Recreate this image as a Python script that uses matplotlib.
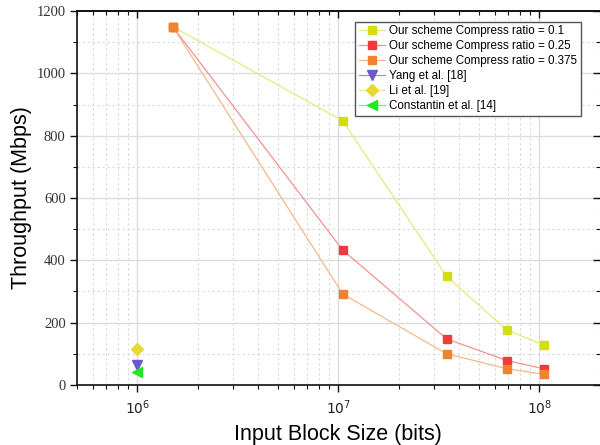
import matplotlib
matplotlib.use("Agg")
import matplotlib.pyplot as plt
from matplotlib.ticker import LogLocator, MultipleLocator, NullFormatter
from matplotlib.lines import Line2D

plt.rcParams['mathtext.fontset'] = 'stix'

# Data
block_sizes = [1.5e6, 1.05e7, 3.45e7, 6.9e7, 1.05e8]
ours_01 = [1150, 848, 349, 176, 128]
ours_025 = [1150, 433, 148, 78, 52]
ours_0375 = [1150, 292, 100, 52, 34]
ref_x = [1e6]
yang = [63]
li = [116]
constantin = [42]

labels = ["Our scheme Compress ratio = 0.1",
          "Our scheme Compress ratio = 0.25",
          "Our scheme Compress ratio = 0.375",
          "Yang et al. [18]",
          "Li et al. [19]",
          "Constantin et al. [14]"]

fig = plt.figure(figsize=(6, 4.45), dpi=100)
ax = fig.add_axes([0.128, 0.135, 0.872, 0.84])

ax.set_xscale('log')
ax.set_xlim(5e5, 2e8)
ax.set_ylim(0, 1200)

def series(y, mc, lc):
    ax.plot(block_sizes, y, color=lc, lw=0.9, zorder=3)
    ax.plot(block_sizes, y, ls='none', marker='s', ms=6, mfc=mc, mec=mc, zorder=4)
    return Line2D([], [], color=lc, lw=0.9, marker='s', ms=6, mfc=mc, mec=mc)

h1 = series(ours_01, '#d4dc12', '#e4ea7a')
h2 = series(ours_025, '#f23a3e', '#f69090')
h3 = series(ours_0375, '#f08230', '#f6b888')
ax.plot(ref_x, yang, ls='none', marker='v', ms=6.5, color='#6a5cc8', zorder=4)
ax.plot(ref_x, li, ls='none', marker='D', ms=6, color='#e8d832', zorder=4)
ax.plot(ref_x, constantin, ls='none', marker='<', ms=6.5, color='#22e622', zorder=4)

h_ref = [Line2D([], [], color='#9a90dc', lw=0.9, marker='v', ms=6.5, mfc='#6a5cc8', mec='#6a5cc8'),
         Line2D([], [], color='#eee690', lw=0.9, marker='D', ms=6, mfc='#e8d832', mec='#e8d832'),
         Line2D([], [], color='#70ee70', lw=0.9, marker='<', ms=6.5, mfc='#22e622', mec='#22e622')]
handles = [h1, h2, h3] + h_ref
leg = ax.legend(handles, labels, loc='upper right', bbox_to_anchor=(0.968, 0.978),
                prop={'family': 'Liberation Sans', 'size': 8.4}, frameon=True, fancybox=False,
                framealpha=1, edgecolor='#555555', handlelength=2.3, handletextpad=0.35,
                labelspacing=0.26, borderpad=0.3, borderaxespad=0.2)
leg.get_frame().set_linewidth(1.0)
leg.set_zorder(10)

# ticks and grid
ax.yaxis.set_major_locator(MultipleLocator(200))
ax.yaxis.set_minor_locator(MultipleLocator(100))
ax.xaxis.set_major_locator(LogLocator(base=10, numticks=10))
ax.xaxis.set_minor_locator(LogLocator(base=10, subs=range(2, 10), numticks=20))
ax.xaxis.set_minor_formatter(NullFormatter())
ax.grid(True, which='major', color='#dddddd', lw=1.0, zorder=0)
ax.grid(True, which='minor', color='#d8d8d8', lw=0.8, ls=(0, (2, 2.5)), zorder=0)
ax.set_axisbelow(True)

ax.tick_params(which='both', direction='out', top=False, right=False, color='#111111')
ax.tick_params(which='major', length=5, width=1.0)
ax.tick_params(which='minor', length=3, width=0.8)
ax.tick_params(axis='x', labelsize=10, pad=5, labelcolor='#222222')
ax.tick_params(axis='y', labelsize=10.5, labelfontfamily='Liberation Serif', pad=3,
               labelcolor='#333333')

# top & right inward ticks
top = ax.secondary_xaxis('top')
top.set_zorder(6)
top.xaxis.set_major_locator(LogLocator(base=10, numticks=10))
top.xaxis.set_minor_locator(LogLocator(base=10, subs=range(2, 10), numticks=20))
top.tick_params(which='both', direction='in', labeltop=False, color='#111111')
top.tick_params(which='major', length=5, width=1.0)
top.tick_params(which='minor', length=3, width=0.8)
top.spines['top'].set_linewidth(1.2)
top.spines['top'].set_color('#111111')
right = ax.secondary_yaxis('right')
right.set_zorder(6)
right.yaxis.set_major_locator(MultipleLocator(200))
right.yaxis.set_minor_locator(MultipleLocator(100))
right.tick_params(which='both', direction='in', labelright=False, color='#111111')
right.tick_params(which='major', length=5, width=1.0)
right.tick_params(which='minor', length=3, width=0.8)
right.spines['right'].set_visible(False)

for s in ax.spines.values():
    s.set_linewidth(1.2)
    s.set_color('#111111')
ax.spines['right'].set_visible(False)

ax.set_xlabel('Input Block Size (bits)', fontsize=15.5, family='Liberation Sans', labelpad=5)
ax.set_ylabel('Throughput (Mbps)', fontsize=15.5, family='Liberation Sans', labelpad=3)

fig.savefig('out.png', dpi=100)
